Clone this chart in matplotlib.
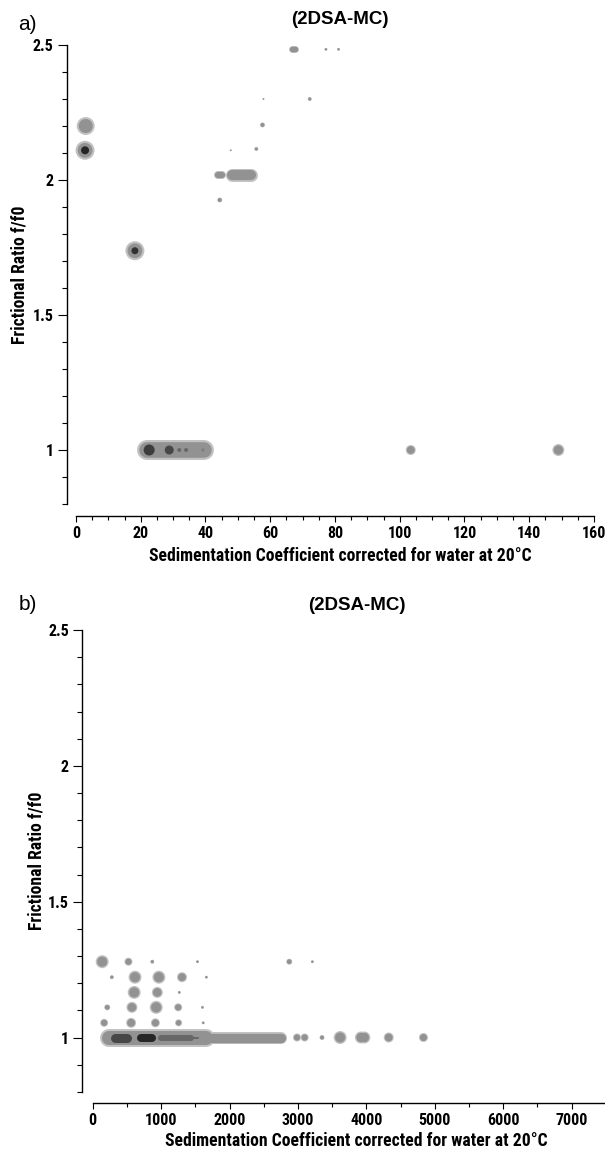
#!/usr/bin/env python3
"""Two 2DSA-MC pseudo-3D distributions: frictional ratio vs sedimentation coefficient."""

import matplotlib

matplotlib.use("Agg")
import matplotlib.pyplot as plt
from matplotlib import font_manager
from matplotlib.ticker import FormatStrFormatter, MultipleLocator

W, H = 605, 1149

# ---- panel a: single solutes (s, f/f0, amplitude) ----
A_SPOT_S = [3.0, 2.8, 18.2, 77.2, 81.1, 57.9, 72.2, 57.6, 47.8, 55.7, 44.4, 103.4, 149.0]
A_SPOT_F = [2.20, 2.11, 1.738, 2.484, 2.484, 2.30, 2.30, 2.204, 2.11, 2.115, 1.926, 1.0, 1.0]
A_SPOT_AMP = [18, 19, 19, 3, 3, 2, 4, 5, 2, 4, 5, 10, 12]
# continuous ridges (start s, end s, f/f0, amplitude)
A_BAND_S0 = [66.6, 43.9, 48.2, 22.0]
A_BAND_S1 = [67.6, 45.0, 54.1, 39.5]
A_BAND_F = [2.484, 2.019, 2.019, 1.0]
A_BAND_AMP = [7, 8, 13, 20]
# high-concentration cores
A_CORE_S = [2.8, 18.2, 22.6, 28.8, 31.9, 34.0, 39.2]
A_CORE_F = [2.11, 1.738, 1.0, 1.0, 1.0, 1.0, 1.0]
A_CORE_AMP = [8, 7, 11, 9, 4, 4, 3]
A_CORE_LEVEL = [1.0, 0.95, 0.9, 0.85, 0.7, 0.7, 0.6]

# ---- panel b ----
B_SPOT_S = [137, 521, 870, 1530, 2872, 3210,
            278, 617, 966, 1304, 1660,
            605, 943, 1265,
            211, 572, 927, 1248, 1603,
            166, 560, 915, 1254, 1614,
            2985, 3097, 3351, 3616, 3920, 3970, 4326, 4834]
B_SPOT_F = [1.279, 1.279, 1.279, 1.279, 1.279, 1.279,
            1.222, 1.222, 1.222, 1.222, 1.222,
            1.166, 1.166, 1.166,
            1.111, 1.111, 1.111, 1.111, 1.111,
            1.054, 1.054, 1.054, 1.054, 1.054,
            1.0, 1.0, 1.0, 1.0, 1.0, 1.0, 1.0, 1.0]
B_SPOT_AMP = [13, 8, 4, 3, 6, 3,
              4, 13, 13, 10, 3,
              13, 11, 3,
              6, 11, 13, 8, 3,
              8, 10, 9, 7, 3,
              8, 8, 5, 13, 12, 12, 10, 9]
B_BAND_S0 = [230, 1500]
B_BAND_S1 = [1650, 2755]
B_BAND_F = [1.0, 1.0]
B_BAND_AMP = [18, 12]
B_CORE_S0 = [320, 700, 1000, 1430]
B_CORE_S1 = [500, 860, 1430, 1540]
B_CORE_F = [1.0, 1.0, 1.0, 1.0]
B_CORE_AMP = [9, 8, 6, 2]
B_CORE_LEVEL = [0.85, 1.0, 0.7, 0.7]

PX = 0.72  # points per pixel at dpi 100
HALO = "#c2c2c2"
SPOT_COLOR = "#929292"

names = {f.name for f in font_manager.fontManager.ttflist}
NARROW = "Roboto Condensed" if "Roboto Condensed" in names else "DejaVu Sans"
PLAIN = "Liberation Sans"


def fx(px):
    return px / W


def fy(py):
    return 1 - py / H


def core_color(level):
    g = 1.0 - 0.85 * level
    return (g, g, g)


def style_axes(ax, xmaj, xmin, xbound):
    for side in ("top", "right"):
        ax.spines[side].set_visible(False)
    ax.spines["left"].set_bounds(0.8, 2.5)
    ax.spines["bottom"].set_bounds(*xbound)
    ax.spines["left"].set_linewidth(1.0)
    ax.spines["bottom"].set_linewidth(1.0)
    ax.xaxis.set_major_locator(MultipleLocator(xmaj))
    ax.xaxis.set_minor_locator(MultipleLocator(xmin))
    ax.yaxis.set_major_locator(MultipleLocator(0.5))
    ax.yaxis.set_minor_locator(MultipleLocator(0.1))
    ax.yaxis.set_major_formatter(FormatStrFormatter("%g"))
    ax.tick_params(axis="x", which="major", direction="out", length=4.3, width=0.8, pad=3.2)
    ax.tick_params(axis="x", which="minor", direction="out", length=2.9, width=0.8)
    ax.tick_params(axis="y", which="major", direction="out", length=6.5, width=0.8, pad=3.0)
    ax.tick_params(axis="y", which="minor", direction="out", length=3.6, width=0.8)
    for lab in ax.get_xticklabels() + ax.get_yticklabels():
        lab.set_fontfamily(NARROW)
        lab.set_fontweight("bold")
        lab.set_fontsize(11.5)


def draw(ax, spot, band, core_pts=None, core_bands=None):
    s, f, amp = spot
    # soft rim, then the denser body of every peak
    for color, k in ((HALO, 1.0), (SPOT_COLOR, 0.78)):
        ax.scatter(s, f, s=[(a * k * PX) ** 2 for a in amp], color=color, lw=0, zorder=2)
        for s0, s1, y, a in zip(*band):
            ax.plot([s0, s1], [y, y], color=color, lw=a * k * PX, solid_capstyle="round", zorder=2)
    if core_pts:
        s, f, amp, lev = core_pts
        ax.scatter(s, f, s=[(a * PX) ** 2 for a in amp], color=[core_color(v) for v in lev], lw=0, zorder=3)
    if core_bands:
        for s0, s1, y, a, v in zip(*core_bands):
            ax.plot([s0, s1], [y, y], color=core_color(v), lw=a * PX, solid_capstyle="round", zorder=3)


def main():
    fig = plt.figure(figsize=(W / 100, H / 100), dpi=100)

    # panel a
    ax_a = fig.add_axes([fx(66.7), fy(516), fx(594) - fx(66.7), fy(45) - fy(516)])
    ax_a.set_xlim(-2.87, 160)
    ax_a.set_ylim(0.7556, 2.5)
    draw(ax_a, (A_SPOT_S, A_SPOT_F, A_SPOT_AMP),
         (A_BAND_S0, A_BAND_S1, A_BAND_F, A_BAND_AMP),
         core_pts=(A_CORE_S, A_CORE_F, A_CORE_AMP, A_CORE_LEVEL))
    style_axes(ax_a, 20, 5, (0, 160))

    # panel b
    ax_b = fig.add_axes([fx(82), fy(1102.7), 1 - fx(82), fy(630) - fy(1102.7)])
    ax_b.set_xlim(-158, 7488)
    ax_b.set_ylim(0.760, 2.5)
    draw(ax_b, (B_SPOT_S, B_SPOT_F, B_SPOT_AMP),
         (B_BAND_S0, B_BAND_S1, B_BAND_F, B_BAND_AMP),
         core_bands=(B_CORE_S0, B_CORE_S1, B_CORE_F, B_CORE_AMP, B_CORE_LEVEL))
    style_axes(ax_b, 1000, 500, (0, 7488))

    xlab = "Sedimentation Coefficient corrected for water at 20\u00b0C"
    ylab = "Frictional Ratio f/f0"
    lab_kw = dict(fontfamily=NARROW, fontweight="bold", fontsize=12.7, ha="center", va="center")
    ttl_kw = dict(fontfamily=PLAIN, fontweight="bold", fontsize=13.5, ha="center", va="center")
    tag_kw = dict(fontfamily=PLAIN, fontsize=15, ha="center", va="center")

    fig.text(fx(27), fy(24), "a)", **tag_kw)
    fig.text(fx(340), fy(20), "(2DSA-MC)", **ttl_kw)
    fig.text(fx(340), fy(556), xlab, **lab_kw)
    fig.text(fx(20), fy(275), ylab, rotation=90, **lab_kw)

    fig.text(fx(28), fy(604), "b)", **tag_kw)
    fig.text(fx(357), fy(606), "(2DSA-MC)", **ttl_kw)
    fig.text(fx(356), fy(1141), xlab, **lab_kw)
    fig.text(fx(36.6), fy(861), ylab, rotation=90, **lab_kw)

    fig.savefig("out.png", dpi=100)


if __name__ == "__main__":
    main()
